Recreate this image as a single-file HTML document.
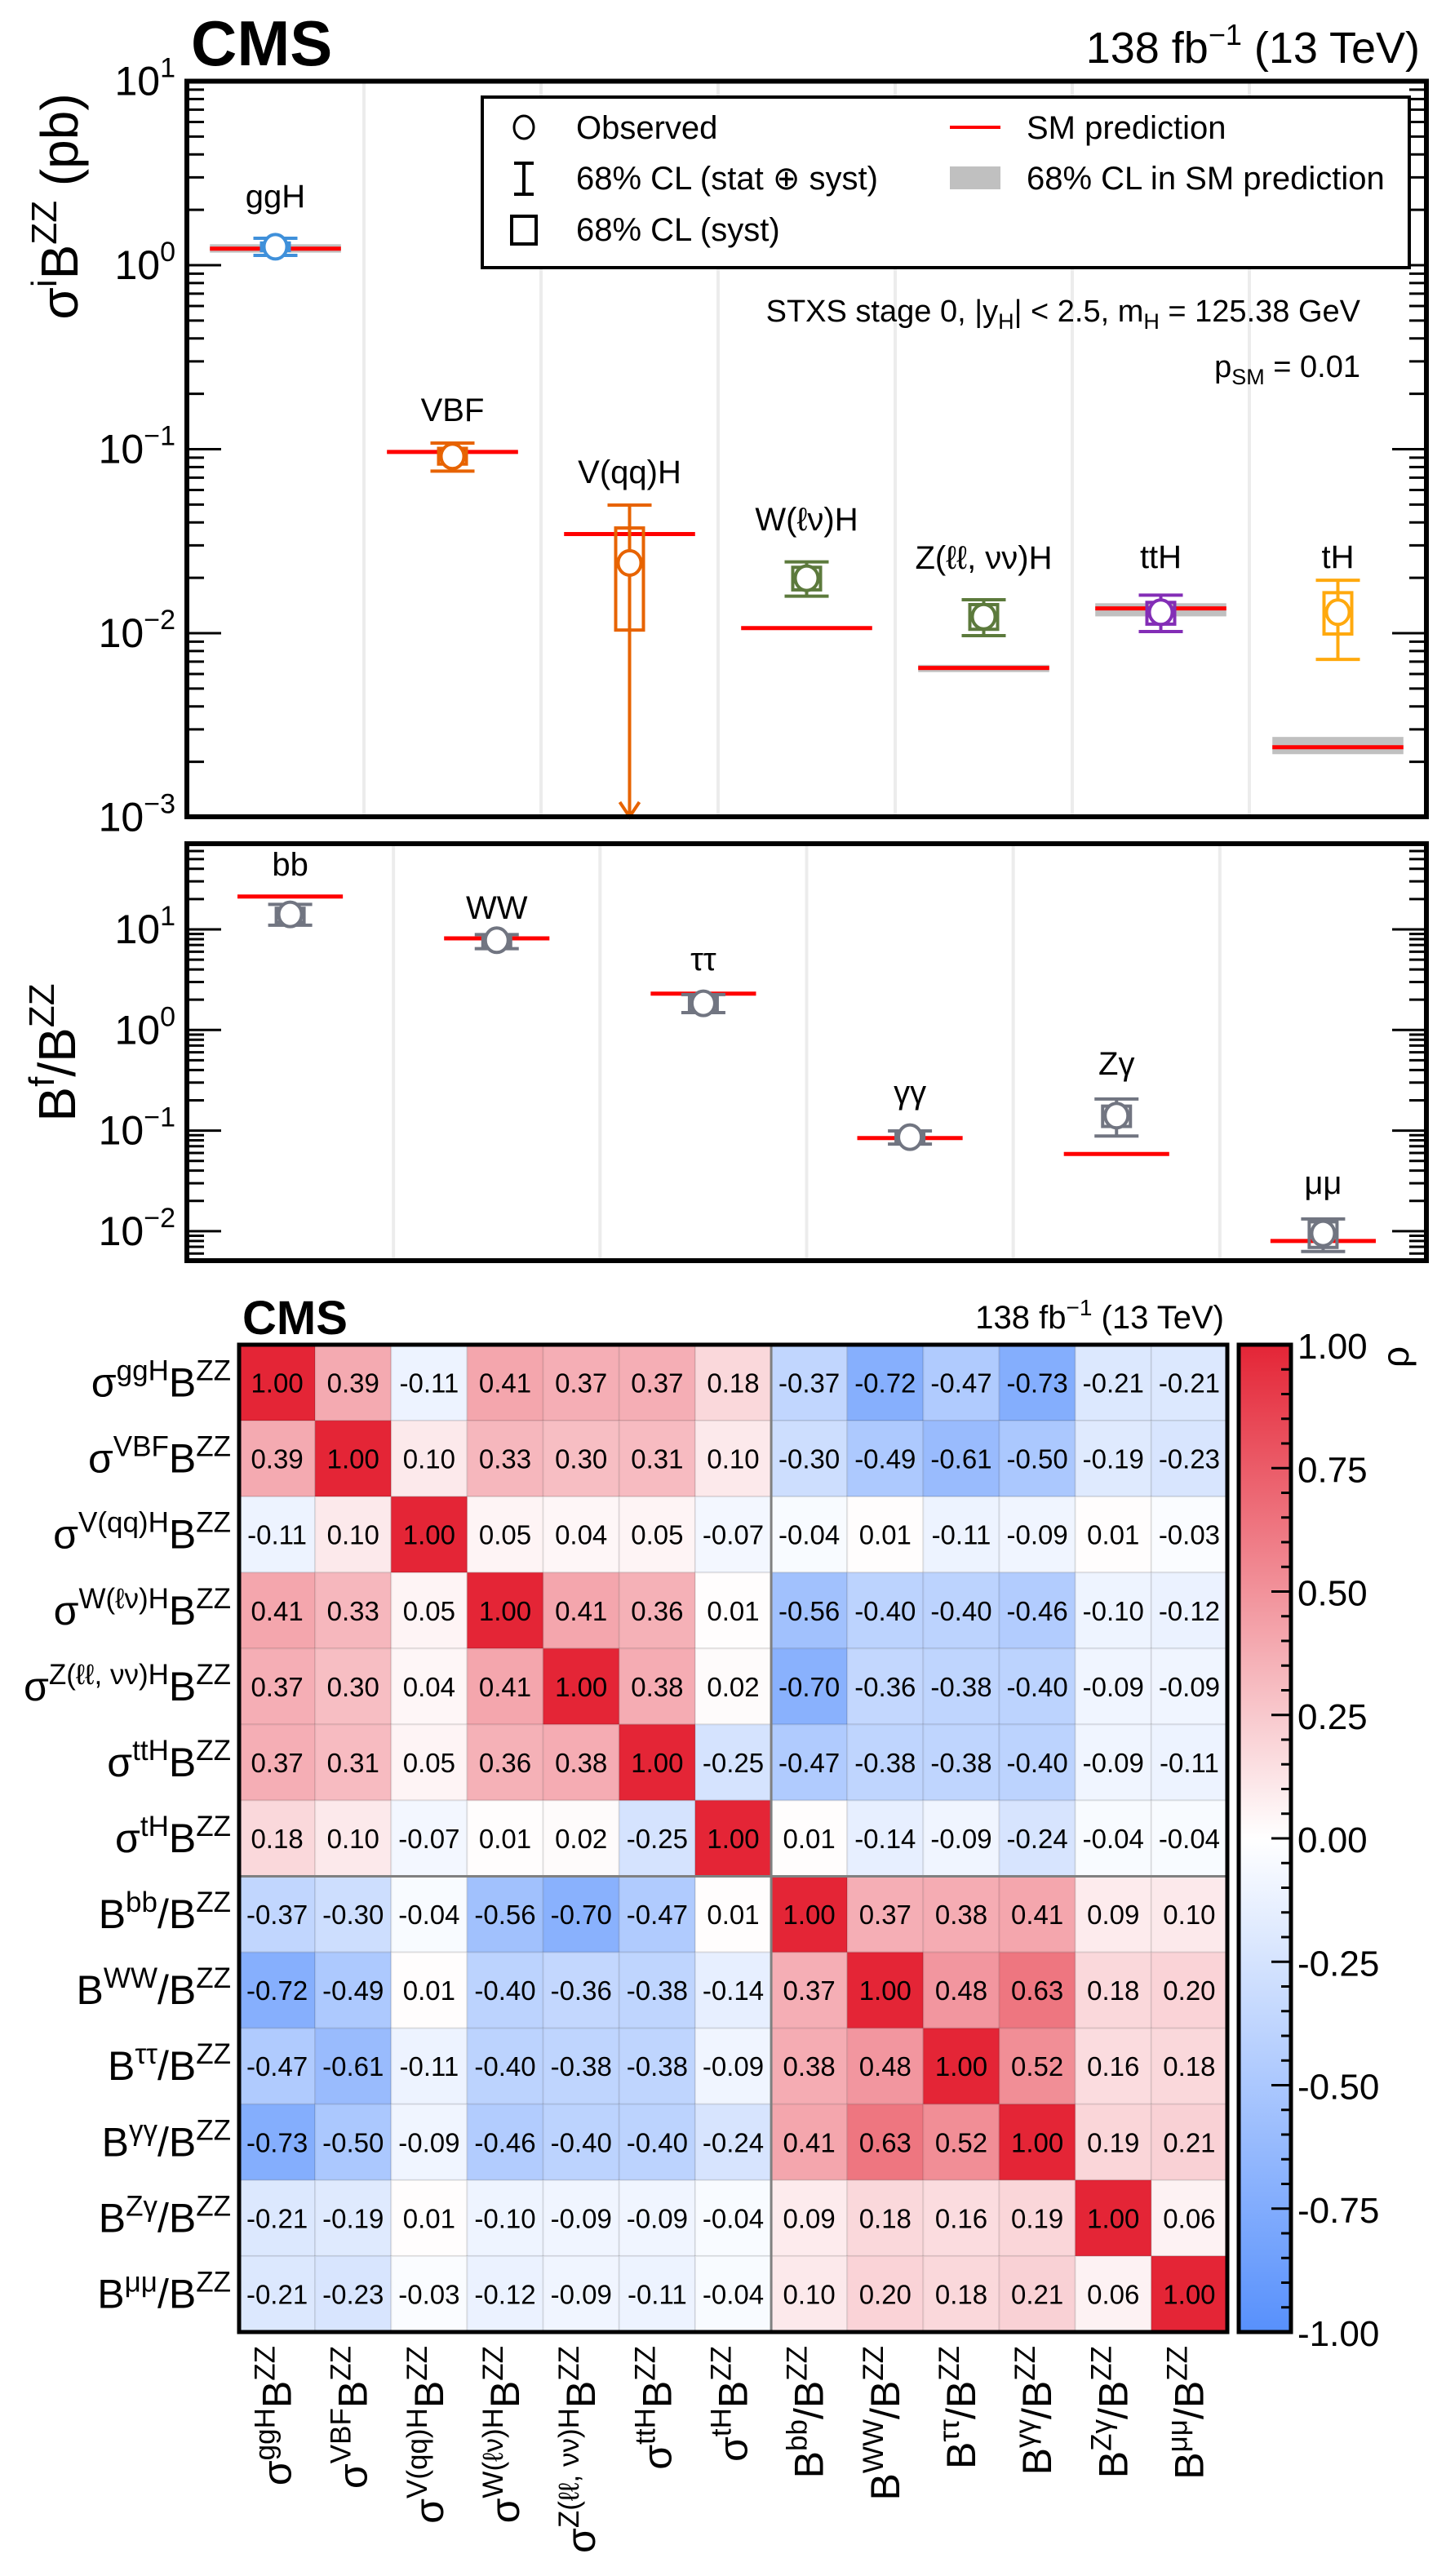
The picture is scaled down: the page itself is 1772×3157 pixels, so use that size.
<!DOCTYPE html>
<html><head><meta charset="utf-8"><title>CMS STXS stage 0</title>
<style>
html,body{margin:0;padding:0;background:#fff;}
svg{display:block;font-family:"Liberation Sans",Arial,sans-serif;}
</style></head>
<body>
<svg id="fig" width="1772" height="3157" viewBox="0 0 1772 3157" xmlns="http://www.w3.org/2000/svg">
<rect x="0" y="0" width="1772" height="3157" fill="#fff"/>
<g id="top"></g>
<g id="bot"></g>
<g id="mat"></g>

<text x="234" y="80" font-size="78" font-weight="bold">CMS</text>
<text x="1740" y="77" font-size="54" text-anchor="end">138 fb<tspan dy="-22" font-size="36">−1</tspan><tspan dy="22"> (13 TeV)</tspan></text>
<text transform="translate(95,253) rotate(-90)" font-size="64" text-anchor="middle">σ<tspan dy="-26" font-size="44">i</tspan><tspan dy="26">B</tspan><tspan dy="-26" font-size="44">ZZ</tspan><tspan dy="26"> (pb)</tspan></text>

<g>
<rect x="591" y="119" width="1136" height="209" fill="#fff" stroke="#000" stroke-width="4"/>
<ellipse cx="642" cy="156" rx="12" ry="14" fill="#fff" stroke="#000" stroke-width="3"/>
<text x="706" y="170" font-size="40">Observed</text>
<g stroke="#000" stroke-width="4"><line x1="642" y1="200" x2="642" y2="238"/><line x1="630" y1="200" x2="654" y2="200"/><line x1="630" y1="238" x2="654" y2="238"/></g>
<text x="706" y="232" font-size="40">68% CL (stat ⊕ syst)</text>
<rect x="627" y="265" width="30" height="34" fill="none" stroke="#000" stroke-width="4"/>
<text x="706" y="295" font-size="40">68% CL (syst)</text>
<line x1="1164" y1="156" x2="1226" y2="156" stroke="#ff0000" stroke-width="4"/>
<text x="1258" y="170" font-size="40">SM prediction</text>
<rect x="1164" y="204" width="62" height="28" fill="#c0c0c0"/>
<text x="1258" y="232" font-size="40">68% CL in SM prediction</text>
</g>
<text x="1667" y="394" font-size="38" text-anchor="end">STXS stage 0, |y<tspan dy="9" font-size="27">H</tspan><tspan dy="-9">| &lt; 2.5, m</tspan><tspan dy="9" font-size="27">H</tspan><tspan dy="-9"> = 125.38 GeV</tspan></text>
<text x="1667" y="462" font-size="38" text-anchor="end">p<tspan dy="9" font-size="27">SM</tspan><tspan dy="-9"> = 0.01</tspan></text>

<text transform="translate(92,1290) rotate(-90)" font-size="64" text-anchor="middle">B<tspan dy="-26" font-size="44">f</tspan><tspan dy="26">/B</tspan><tspan dy="-26" font-size="44">ZZ</tspan></text>

<text x="297" y="1635" font-size="58" font-weight="bold">CMS</text>
<text x="1500" y="1628" font-size="40" text-anchor="end">138 fb<tspan dy="-16" font-size="28">−1</tspan><tspan dy="16"> (13 TeV)</tspan></text>
<text transform="translate(1726,1650) rotate(-90)" font-size="46" text-anchor="end">ρ</text>
<defs><linearGradient id="cbg" x1="0" y1="0" x2="0" y2="1"><stop offset="0" stop-color="#e42536"/><stop offset="0.5" stop-color="#ffffff"/><stop offset="1" stop-color="#5790fc"/></linearGradient></defs>
<rect x="1518" y="1648" width="64" height="1210" fill="url(#cbg)" stroke="#000" stroke-width="5"/>
</svg>
<script>
const NS='http://www.w3.org/2000/svg';
function mk(parent,tag,attrs){const e=document.createElementNS(NS,tag);for(const k in attrs)e.setAttribute(k,attrs[k]);parent.appendChild(e);return e;}

const prodNames=['ggH','VBF','V(qq)H','W(ℓν)H','Z(ℓℓ, νν)H','ttH','tH'];
const prodColors=['#3f90da','#e76300','#e76300','#5c7a3c','#5c7a3c','#832db6','#ffa90e'];
const prodObs=[1.26,0.0914,0.0241,0.0199,0.0123,0.0130,0.0130];
const prodErrHi=[1.40,0.108,0.0497,0.0244,0.0152,0.0161,0.0194];
const prodErrLo=[1.13,0.076,0.0009,0.0159,0.0097,0.0102,0.0072];
const prodSystHi=[1.32,0.101,0.0373,0.0228,0.0143,0.0147,0.0166];
const prodSystLo=[1.20,0.083,0.0104,0.0172,0.0105,0.0112,0.0099];
const prodSM=[1.23,0.0966,0.0346,0.01066,0.00647,0.01364,0.0024];
const prodSMHi=[1.30,0.0985,0.0346,0.01066,0.00673,0.01455,0.00273];
const prodSMLo=[1.17,0.0945,0.0346,0.01066,0.00615,0.01234,0.00220];
const prodLabelBase=[254,516,592,650,697,696,696];
const topDecades=[-3,-2,-1,0,1];

const decNames=['bb','WW','ττ','γγ','Zγ','μμ'];
const decObs=[14.1,7.80,1.84,0.0861,0.141,0.00951];
const decErrHi=[17.7,8.87,2.25,0.0993,0.206,0.01324];
const decErrLo=[11.0,6.44,1.49,0.0735,0.0883,0.00628];
const decSystHi=[16.2,8.55,2.14,0.095,0.175,0.0124];
const decSystLo=[11.8,6.75,1.57,0.0776,0.110,0.0069];
const decSM=[21.2,8.15,2.30,0.0842,0.0585,0.0080];
const decLabelBase=[1073,1126,1189,1352,1317,1463];
const botDecades=[-2,-1,0,1];

const matLabels=[['σ','ggH','B','ZZ'],['σ','VBF','B','ZZ'],['σ','V(qq)H','B','ZZ'],['σ','W(ℓν)H','B','ZZ'],['σ','Z(ℓℓ, νν)H','B','ZZ'],['σ','ttH','B','ZZ'],['σ','tH','B','ZZ'],['B','bb','/B','ZZ'],['B','WW','/B','ZZ'],['B','ττ','/B','ZZ'],['B','γγ','/B','ZZ'],['B','Zγ','/B','ZZ'],['B','μμ','/B','ZZ']];
const corr=[
[1.00,0.39,-0.11,0.41,0.37,0.37,0.18,-0.37,-0.72,-0.47,-0.73,-0.21,-0.21],
[0.39,1.00,0.10,0.33,0.30,0.31,0.10,-0.30,-0.49,-0.61,-0.50,-0.19,-0.23],
[-0.11,0.10,1.00,0.05,0.04,0.05,-0.07,-0.04,0.01,-0.11,-0.09,0.01,-0.03],
[0.41,0.33,0.05,1.00,0.41,0.36,0.01,-0.56,-0.40,-0.40,-0.46,-0.10,-0.12],
[0.37,0.30,0.04,0.41,1.00,0.38,0.02,-0.70,-0.36,-0.38,-0.40,-0.09,-0.09],
[0.37,0.31,0.05,0.36,0.38,1.00,-0.25,-0.47,-0.38,-0.38,-0.40,-0.09,-0.11],
[0.18,0.10,-0.07,0.01,0.02,-0.25,1.00,0.01,-0.14,-0.09,-0.24,-0.04,-0.04],
[-0.37,-0.30,-0.04,-0.56,-0.70,-0.47,0.01,1.00,0.37,0.38,0.41,0.09,0.10],
[-0.72,-0.49,0.01,-0.40,-0.36,-0.38,-0.14,0.37,1.00,0.48,0.63,0.18,0.20],
[-0.47,-0.61,-0.11,-0.40,-0.38,-0.38,-0.09,0.38,0.48,1.00,0.52,0.16,0.18],
[-0.73,-0.50,-0.09,-0.46,-0.40,-0.40,-0.24,0.41,0.63,0.52,1.00,0.19,0.21],
[-0.21,-0.19,0.01,-0.10,-0.09,-0.09,-0.04,0.09,0.18,0.16,0.19,1.00,0.06],
[-0.21,-0.23,-0.03,-0.12,-0.09,-0.11,-0.04,0.10,0.20,0.18,0.21,0.06,1.00]];
const cbTicks=['1.00','0.75','0.50','0.25','0.00','-0.25','-0.50','-0.75','-1.00'];

const X0=229,X1=1748;
const TY0=99.5,TY1=1001,TDEC=225.5;
function yT(v){return TY0+(1-Math.log10(v))*TDEC;}
const BY0=1034,BY1=1545,BDEC=123.3;
function yB(v){return 1139+(1-Math.log10(v))*BDEC;}

function drawLogAxis(g,yf,ymin,ymax,decades,prefix){
  for(let d=-4;d<=2;d++){
    for(let m=1;m<=9;m++){
      const v=m*Math.pow(10,d);const y=yf(v);
      if(y<ymin-0.5||y>ymax+0.5)continue;
      const L=(m===1)?42:21;
      const t1=mk(g,'line',{x1:X0,y1:y,x2:X0+L,y2:y,stroke:'#000','stroke-width':3});
      
      
      const t2=mk(g,'line',{x1:X1,y1:y,x2:X1-L,y2:y,stroke:'#000','stroke-width':3});
      
      
    }
  }
  decades.forEach(d=>{
    const y=yf(Math.pow(10,d));
    const t=mk(g,'text',{x:215,y:y+17,'font-size':50,'text-anchor':'end'});
    t.innerHTML='10<tspan dy="-22" font-size="34">'+(d<0?'−'+(-d):d)+'</tspan>';
    
    
  });
}

function drawPoint(g,cx,yf,obs,eh,el,sh,sl,col,bottomY,cap,name){
  const yo=yf(obs);let yl=yf(el);let arrow=false;
  if(yl>bottomY){yl=bottomY;arrow=true;}
  const bar=mk(g,'line',{x1:cx,y1:yf(eh),x2:cx,y2:yl,stroke:col,'stroke-width':4});
  
  
  const c1=mk(g,'line',{x1:cx-cap/2,y1:yf(eh),x2:cx+cap/2,y2:yf(eh),stroke:col,'stroke-width':4});
  
  
  if(!arrow){
    const c2=mk(g,'line',{x1:cx-cap/2,y1:yl,x2:cx+cap/2,y2:yl,stroke:col,'stroke-width':4});
    
    
  }else{
    const a=mk(g,'polyline',{points:(cx-12)+','+(yl-18)+' '+cx+','+yl+' '+(cx+12)+','+(yl-18),fill:'none',stroke:col,'stroke-width':4});
    
    
  }
  const b=mk(g,'rect',{x:cx-17,y:yf(sh),width:34,height:yf(sl)-yf(sh),fill:'none',stroke:col,'stroke-width':4});
  
  
  const c=mk(g,'ellipse',{cx:cx,cy:yo,rx:14,ry:15,fill:'#fff',stroke:col,'stroke-width':4});
  
  
}

(function(){
  const g=document.getElementById('top');
  const n=prodNames.length,w=(X1-X0)/n;
  for(let i=1;i<n;i++){
    const l=mk(g,'line',{x1:X0+i*w,y1:TY0,x2:X0+i*w,y2:TY1,stroke:'#ececec','stroke-width':4});
    
    
  }
  prodNames.forEach((nm,i)=>{
    const cx=X0+(i+0.5)*w,hw=w*0.37;
    const band=mk(g,'rect',{x:cx-hw,y:yT(prodSMHi[i]),width:2*hw,height:yT(prodSMLo[i])-yT(prodSMHi[i]),fill:'#c0c0c0'});
    
    
    const sm=mk(g,'line',{x1:cx-hw,y1:yT(prodSM[i]),x2:cx+hw,y2:yT(prodSM[i]),stroke:'#ff0000','stroke-width':5});
    
    
    drawPoint(g,cx,yT,prodObs[i],prodErrHi[i],prodErrLo[i],prodSystHi[i],prodSystLo[i],prodColors[i],TY1,54,'prod-'+i);
    const t=mk(g,'text',{x:cx,y:prodLabelBase[i],'font-size':40,'text-anchor':'middle'});
    t.textContent=nm;
    
    
  });
  drawLogAxis(g,yT,TY0,TY1,topDecades,'top-y');
  const f=mk(g,'rect',{x:X0,y:TY0,width:X1-X0,height:TY1-TY0,fill:'none',stroke:'#000','stroke-width':6});
  
  
})();

(function(){
  const g=document.getElementById('bot');
  const n=decNames.length,w=(X1-X0)/n;
  for(let i=1;i<n;i++){
    const l=mk(g,'line',{x1:X0+i*w,y1:BY0,x2:X0+i*w,y2:BY1,stroke:'#ececec','stroke-width':4});
    
    
  }
  decNames.forEach((nm,i)=>{
    const cx=X0+(i+0.5)*w,hw=w*0.255;
    const sm=mk(g,'line',{x1:cx-hw,y1:yB(decSM[i]),x2:cx+hw,y2:yB(decSM[i]),stroke:'#ff0000','stroke-width':5});
    
    
    drawPoint(g,cx,yB,decObs[i],decErrHi[i],decErrLo[i],decSystHi[i],decSystLo[i],'#717581',BY1,54,'decay-'+i);
    const t=mk(g,'text',{x:cx,y:decLabelBase[i],'font-size':40,'text-anchor':'middle'});
    t.textContent=nm;
    
    
  });
  drawLogAxis(g,yB,BY0,BY1,botDecades,'bottom-y');
  const f=mk(g,'rect',{x:X0,y:BY0,width:X1-X0,height:BY1-BY0,fill:'none',stroke:'#000','stroke-width':6});
  
  
})();

(function(){
  const g=document.getElementById('mat');
  const MX0=293,MX1=1504,MY0=1648,MY1=2858,N=matLabels.length;
  const cw=(MX1-MX0)/N,ch=(MY1-MY0)/N;
  function col(v){
    let r,gg,b;
    if(v>=0){r=255+(228-255)*v;gg=255+(37-255)*v;b=255+(54-255)*v;}
    else{const a=-v;r=255+(87-255)*a;gg=255+(144-255)*a;b=255+(252-255)*a;}
    return 'rgb('+Math.round(r)+','+Math.round(gg)+','+Math.round(b)+')';
  }
  function lab(p){return p[0]+'<tspan dy="-20" font-size="35">'+p[1]+'</tspan><tspan dy="20">'+p[2]+'</tspan><tspan dy="-20" font-size="35">'+p[3]+'</tspan>';}
  for(let r=0;r<N;r++){
    for(let c=0;c<N;c++){
      const v=corr[r][c];
      const cell=mk(g,'rect',{x:MX0+c*cw,y:MY0+r*ch,width:cw,height:ch,fill:col(v),stroke:'rgba(0,0,0,0.08)','stroke-width':2});
      
      
      const t=mk(g,'text',{x:MX0+(c+0.5)*cw,y:MY0+(r+0.5)*ch+12,'font-size':33,'text-anchor':'middle'});
      t.textContent=v.toFixed(2);
      
      
    }
  }
  const s1=mk(g,'line',{x1:MX0+7*cw,y1:MY0,x2:MX0+7*cw,y2:MY1,stroke:'#808080','stroke-width':3});
  
  
  const s2=mk(g,'line',{x1:MX0,y1:MY0+7*ch,x2:MX1,y2:MY0+7*ch,stroke:'#808080','stroke-width':3});
  
  
  const f=mk(g,'rect',{x:MX0,y:MY0,width:MX1-MX0,height:MY1-MY0,fill:'none',stroke:'#000','stroke-width':5});
  
  
  matLabels.forEach((p,i)=>{
    const t=mk(g,'text',{x:283,y:MY0+(i+0.5)*ch+17,'font-size':50,'text-anchor':'end'});
    t.innerHTML=lab(p);
    
    
    const cx=MX0+(i+0.5)*cw+17;
    const u=mk(g,'text',{transform:'translate('+cx+',2875) rotate(-90)','font-size':50,'text-anchor':'end'});
    u.innerHTML=lab(p);
    
    
  });
  const svg=document.getElementById('fig');
  for(let k=0;k<=40;k++){
    const y=MY0+k*(MY1-MY0)/40;
    if(k===0||k===40)continue;
    const L=(k%5===0)?24:12;
    const tk=mk(svg,'line',{x1:1582,y1:y,x2:1582-L,y2:y,stroke:'#000','stroke-width':3});
    
    
  }
  cbTicks.forEach((s,k)=>{
    const y=MY0+k*(MY1-MY0)/(cbTicks.length-1);
    const t=mk(svg,'text',{x:1590,y:y+17,'font-size':44});
    t.textContent=s;
    
    
  });
})();
</script>
</body></html>
